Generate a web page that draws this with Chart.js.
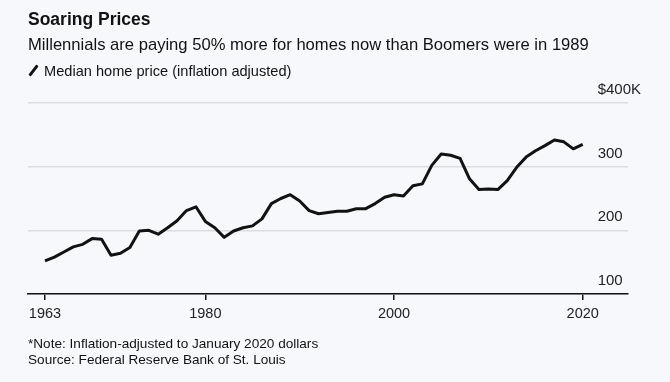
<!DOCTYPE html>
<html>
<head>
<meta charset="utf-8">
<script src="https://cdn.jsdelivr.net/npm/chart.js@4"></script>
<style>
  html, body { margin: 0; padding: 0; }
  body {
    width: 670px; height: 382px; overflow: hidden; position: relative;
    background: #f7f8fc; color: #121212;
    font-family: "Liberation Sans", Arial, sans-serif;
  }
  #chart { position: absolute; left: 0; top: 0; }
  .txt { position: absolute; left: 28px; white-space: nowrap; }
  .title { top: 9px; font-size: 17.5px; font-weight: bold; }
  .sub { top: 35px; font-size: 16.6px; }
  .legend { top: 63px; font-size: 14.6px; }
  .legend .swatch {
    display: inline-block; width: 3px; height: 13px; background: #111;
    border-radius: 1px; transform: rotate(38deg); margin: 0 9px -1px 4px;
  }
  .note { top: 336px; font-size: 13.6px; line-height: 16px; }
</style>
</head>
<body>
<canvas id="chart" width="670" height="382"></canvas>
<div class="txt title">Soaring Prices</div>
<div class="txt sub">Millennials are paying 50% more for homes now than Boomers were in 1989</div>
<div class="txt legend"><span class="swatch"></span>Median home price (inflation adjusted)</div>
<div class="txt note">*Note: Inflation-adjusted to January 2020 dollars<br>Source: Federal Reserve Bank of St. Louis</div>
<script>
  // median home price, thousands of Jan-2020 dollars
  const years = [
    1963, 1964, 1965, 1966, 1967, 1968, 1969, 1970, 1971, 1972,
    1973, 1974, 1975, 1976, 1977, 1978, 1979, 1980, 1981, 1982,
    1983, 1984, 1985, 1986, 1987, 1988, 1989, 1990, 1991, 1992,
    1993, 1994, 1995, 1996, 1997, 1998, 1999, 2000, 2001, 2002,
    2003, 2004, 2005, 2006, 2007, 2008, 2009, 2010, 2011, 2012,
    2013, 2014, 2015, 2016, 2017, 2018, 2019, 2020
  ];
  const prices = [
    152, 158, 166, 174, 178, 187, 186, 161, 164, 173,
    199, 200, 194, 204, 215, 231, 237, 214, 204, 189,
    199, 204, 207, 218, 242, 250, 256, 246, 231, 226,
    228, 230, 230, 234, 234, 242, 252, 256, 254, 270,
    273, 302, 320, 318, 313, 281, 264, 265, 264, 278,
    299, 315, 325, 333, 342, 339, 328, 335
  ];
  const xTicks = [1963, 1980, 2000, 2020];
  const yTicks = [100, 200, 300, 400];

  const ink = '#121212';

  new Chart(document.getElementById('chart'), {
    type: 'line',
    data: {
      datasets: [{
        data: years.map((y, i) => ({ x: y, y: prices[i] })),
        borderColor: ink,
        borderWidth: 3,
        borderJoinStyle: 'round',
        pointRadius: 0,
        tension: 0
      }]
    },
    options: {
      responsive: false,
      animation: false,
      events: [],
      layout: { padding: { left: 28, right: 42, top: 103, bottom: 59 } },
      plugins: { legend: { display: false }, tooltip: { enabled: false } },
      scales: {
        x: {
          type: 'linear',
          min: 1961.2,
          max: 2024.8,
          afterBuildTicks: s => { s.ticks = xTicks.map(v => ({ value: v })); },
          afterFit: s => { s.height = 29; },
          grid: { drawOnChartArea: false, drawTicks: true, tickLength: 6, color: ink, lineWidth: 1.5 },
          border: { display: true, color: ink, width: 1.5 },
          ticks: {
            color: '#222', padding: 5, maxRotation: 0, autoSkip: false,
            font: { family: '"Liberation Sans", Arial, sans-serif', size: 14.5 },
            callback: v => String(v)
          }
        },
        y: {
          type: 'linear',
          position: 'right',
          min: 100,
          max: 400,
          afterBuildTicks: s => { s.ticks = yTicks.map(v => ({ value: v })); },
          afterFit: s => { s.width = 0; },
          grid: { color: '#dcdde0', lineWidth: 1.5, drawTicks: false },
          border: { display: false },
          ticks: {
            mirror: true, crossAlign: 'far', padding: 13, labelOffset: -13,
            color: '#222',
            font: { family: '"Liberation Sans", Arial, sans-serif', size: 15 },
            callback: v => v === 400 ? '$400K' : String(v)
          }
        }
      }
    }
  });
</script>
</body>
</html>
